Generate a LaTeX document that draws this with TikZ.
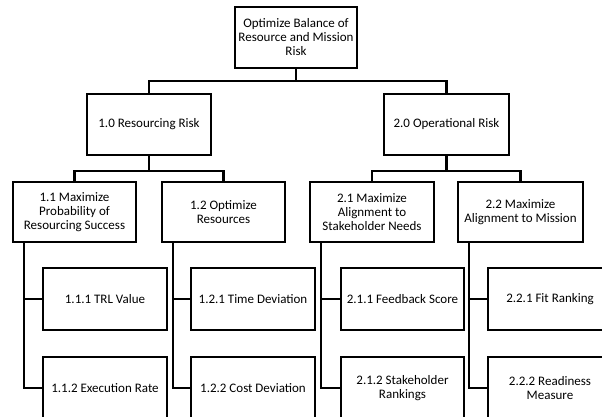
\documentclass[tikz,border=0pt]{standalone}
\usepackage{fontspec}
\setmainfont{Carlito}
\begin{document}
\begin{tikzpicture}[x=1pt,y=-1pt,
  box/.style={draw=black, line width=2.4pt, fill=white, align=center, inner sep=1pt,
    font=\fontsize{13}{14}\selectfont, minimum height=61pt},
  conn/.style={draw=black, line width=2.4pt}]
\useasboundingbox (0,0) rectangle (602,417);
\clip (0,0) rectangle (602,417);
% level 0
\node[box, minimum width=122pt] (top) at (296,37.5) {Optimize Balance of\\Resource and Mission\\Risk};
% level 1
\node[box, minimum width=124pt] (r1) at (149,124.5) {1.0 Resourcing Risk};
\node[box, minimum width=125pt] (r2) at (446.5,124.5) {2.0 Operational Risk};
% level 2
\node[box, minimum width=123pt, minimum height=60pt] (a11) at (74.5,212) {1.1 Maximize\\Probability of\\Resourcing Success};
\node[box, minimum width=123pt, minimum height=60pt] (a12) at (223.5,212) {1.2 Optimize\\Resources};
\node[box, minimum width=124pt, minimum height=60pt] (a21) at (372,212) {2.1 Maximize\\Alignment to\\Stakeholder Needs};
\node[box, minimum width=125pt, minimum height=60pt] (a22) at (520.5,212) {2.2 Maximize\\Alignment to Mission};
% level 3
\node[box, minimum width=124pt, minimum height=62pt] (l111) at (105,299) {1.1.1 TRL Value};
\node[box, minimum width=124pt, minimum height=62pt] (l112) at (105,388) {1.1.2 Execution Rate};
\node[box, minimum width=124pt, minimum height=62pt] (l121) at (253,299) {1.2.1 Time Deviation};
\node[box, minimum width=124pt, minimum height=62pt] (l122) at (253,388) {1.2.2 Cost Deviation};
\node[box, minimum width=123pt, minimum height=62pt] (l211) at (402.5,299) {2.1.1 Feedback Score};
\node[box, minimum width=123pt, minimum height=62pt] (l212) at (402.5,388) {2.1.2 Stakeholder\\Rankings};
\node[box, minimum width=124pt, minimum height=62pt] (l221) at (550,299) {2.2.1 Fit Ranking};
\node[box, minimum width=124pt, minimum height=62pt] (l222) at (550,388) {2.2.2 Readiness\\Measure};
% connectors
\draw[conn] (top.south) -- ++(0,12) -| (r1.north);
\draw[conn] (top.south) -- ++(0,12) -| (r2.north);
\draw[conn] (r1.south) -- ++(0,15) -| (a11.north);
\draw[conn] (r1.south) -- ++(0,15) -| (a12.north);
\draw[conn] (r2.south) -- ++(0,15) -| (a21.north);
\draw[conn] (r2.south) -- ++(0,15) -| (a22.north);
\foreach \p/\a/\b in {a11/l111/l112, a12/l121/l122, a21/l211/l212, a22/l221/l222}{
  \draw[conn] ([xshift=12pt]\p.south west) |- (\a.west);
  \draw[conn] ([xshift=12pt]\p.south west) |- (\b.west);
}
\end{tikzpicture}
\end{document}
